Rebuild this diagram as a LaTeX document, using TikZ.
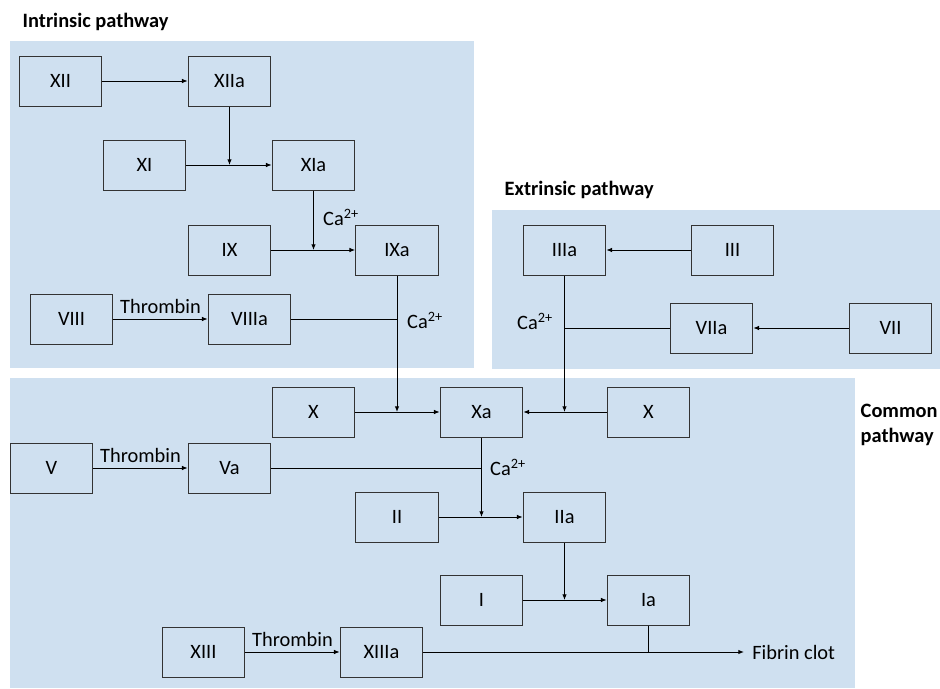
\documentclass[tikz,border=0pt]{standalone}
\usepackage{fontspec}
\setmainfont{Carlito}
\usepackage{xcolor}
\usetikzlibrary{arrows.meta,positioning}
\definecolor{paneblue}{RGB}{207,224,240}
\newcommand{\Ca}{Ca\textsuperscript{2+}}

\begin{document}
\begin{tikzpicture}[
  x=0.75pt,y=-0.75pt,
  font=\fontsize{15.3}{17}\selectfont,
  box/.style={draw=black!80,line width=0.75pt,minimum width=62pt,minimum height=37.5pt,inner sep=0pt},
  arrow/.style={-{Latex[length=1.5mm,width=1.2mm]},line width=0.75pt},
  link/.style={line width=0.75pt},
  pane/.style={fill=paneblue},
  title/.style={anchor=west,font=\fontsize{15.3}{18.5}\selectfont\bfseries}
]
\useasboundingbox (0,0) rectangle (940,689);
% pathway panels
\fill[pane] (10,41) rectangle (474,368);
\fill[pane] (492,210) rectangle (940,369);
\fill[pane] (10,378) rectangle (855,688);
\node[title] (intrinsic) at (18,22) {Intrinsic pathway};
\node[title] (extrinsic) at (500,190) {Extrinsic pathway};
\node[title,align=left] (common) at (856,425) {Common\\pathway};
% intrinsic
\node[box] (XII) at (60.5,81) {XII};
\node[box] (XIIa) at (229.5,81) {XIIa};
\node[box] (XI) at (144.5,165) {XI};
\node[box] (XIa) at (313.5,165) {XIa};
\node[box] (IX) at (229.5,250) {IX};
\node[box] (IXa) at (397,250) {IXa};
\node[box] (VIII) at (71.5,319) {VIII};
\node[box] (VIIIa) at (249.5,319) {VIIIa};
% extrinsic
\node[box] (IIIa) at (564.5,250) {IIIa};
\node[box] (III) at (732.5,250) {III};
\node[box] (VIIa) at (711.5,328) {VIIa};
\node[box] (VII) at (890.5,328) {VII};
% common
\node[box] (Xl) at (313.5,412) {X};
\node[box] (Xa) at (481.5,412) {Xa};
\node[box] (Xr) at (648.5,412) {X};
\node[box] (V) at (51.5,468) {V};
\node[box] (Va) at (229.5,468) {Va};
\node[box] (II) at (397,517) {II};
\node[box] (IIa) at (564.5,517) {IIa};
\node[box] (I) at (481.5,600) {I};
\node[box] (Ia) at (648.5,600) {Ia};
\node[box] (XIII) at (203.5,652) {XIII};
\node[box] (XIIIa) at (381.5,652) {XIIIa};
\node[anchor=west,inner sep=6pt] (fibrin) at (744,652) {Fibrin clot};
% cofactor labels
\node (ca1) at (341,217) {\Ca};
\node (ca2) at (425,320) {\Ca};
\node (ca3) at (535,321) {\Ca};
\node (ca4) at (508,467) {\Ca};

\draw[arrow] (XII) -- (XIIa);
\draw[arrow] (XIIa) -- (XIIa |- XIa);
\draw[arrow] (XI) -- (XIa);
\draw[arrow] (XIa) -- (XIa |- IXa);
\draw[arrow] (IX) -- (IXa);
\draw[arrow] (VIII) -- node[above,inner sep=4pt] {Thrombin} (VIIIa);
\draw[link] (VIIIa) -- (IXa |- VIIIa);
\draw[arrow] (IXa) -- (IXa |- Xa);
\draw[arrow] (III) -- (IIIa);
\draw[arrow] (VII) -- (VIIa);
\draw[link] (VIIa) -- (IIIa |- VIIa);
\draw[arrow] (IIIa) -- (IIIa |- Xa);
\draw[arrow] (Xl) -- (Xa);
\draw[arrow] (Xr) -- (Xa);
\draw[arrow] (V) -- node[above,inner sep=4pt] {Thrombin} (Va);
\draw[link] (Va) -- (Xa |- Va);
\draw[arrow] (Xa) -- (Xa |- IIa);
\draw[arrow] (II) -- (IIa);
\draw[arrow] (IIa) -- (IIa |- Ia);
\draw[arrow] (I) -- (Ia);
\draw[arrow] (XIII) -- node[above,inner sep=4pt] {Thrombin} (XIIIa);
\draw[arrow] (XIIIa) -- (fibrin);
\draw[link] (Ia) -- (Ia |- XIIIa);
\end{tikzpicture}
\end{document}
